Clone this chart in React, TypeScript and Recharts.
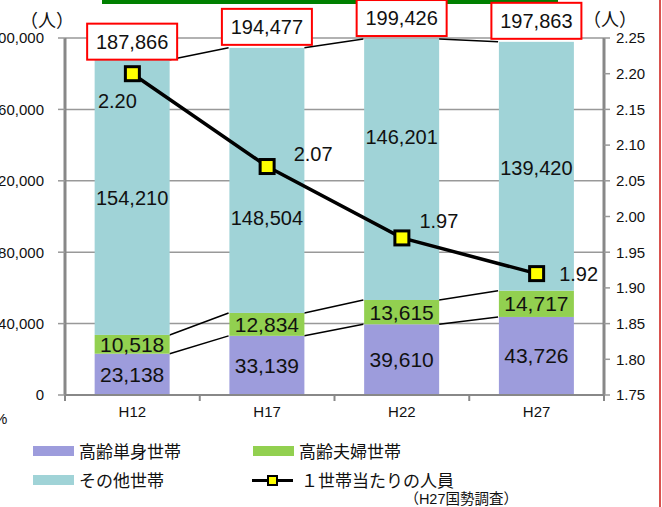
import React from 'react';
import { Bar, CartesianGrid, ComposedChart, LabelList, Line, XAxis, YAxis } from 'recharts';

const years = ['H12', 'H17', 'H22', 'H27'];
const singleElderly = [23138, 33139, 39610, 43726];
const elderlyCouple = [10518, 12834, 13615, 14717];
const otherHouseholds = [154210, 148504, 146201, 139420];
const perHousehold = [2.2, 2.07, 1.97, 1.92];
const leftTicks = [0, 40000, 80000, 120000, 160000, 200000];
const rightTicks = [1.75, 1.8, 1.85, 1.9, 1.95, 2.0, 2.05, 2.1, 2.15, 2.2, 2.25];
const seriesNames = ['高齢単身世帯', '高齢夫婦世帯', 'その他世帯', '１世帯当たりの人員'];

const stacks = [singleElderly, elderlyCouple, otherHouseholds];
const totals = years.map((_, i) => stacks.reduce((s, arr) => s + arr[i], 0));

const data = years.map((year, i) => ({
  year,
  single: singleElderly[i],
  couple: elderlyCouple[i],
  other: otherHouseholds[i],
  perHousehold: perHousehold[i],
}));

const FONT = "'Liberation Sans', Arial, 'Noto Sans CJK JP', sans-serif";
const COLORS = ['#9d9cdc', '#92d050', '#a0d3d7'];
const GAP = 0.22; // barCategoryGap

const fmt = (v: number) => v.toLocaleString('en-US');

// bar segment + the Excel-style series line to the next bar
const makeShape = (seg: number) => (props: any) => {
  const { x, y, width, height, index, fill } = props;
  const cum = (i: number) => stacks.slice(0, seg + 1).reduce((s, arr) => s + arr[i], 0);
  let link = null;
  if (index < years.length - 1 && height > 0) {
    const k = height / stacks[seg][index];
    const base = y + height + (cum(index) - stacks[seg][index]) * k;
    const band = width / (1 - 2 * GAP);
    link = (
      <line x1={x + width} y1={y} x2={x + band} y2={base - cum(index + 1) * k}
        stroke="#000" strokeWidth={1.5} />
    );
  }
  return (
    <g>
      <rect x={x} y={y} width={width} height={height} fill={fill} />
      {link}
    </g>
  );
};

const segLabel = (seg: number, shifts: number[] = [0, 0, 0, 0], size = 20) => (props: any) => {
  const { x, y, width, height, index } = props;
  return (
    <text x={x + width / 2} y={y + height / 2 + shifts[index]} textAnchor="middle" dominantBaseline="central"
      fontSize={size} fill="#111" fontFamily={FONT}>
      {fmt(stacks[seg][index])}
    </text>
  );
};

const totalBox = (props: any) => {
  const { x, y, width, index } = props;
  const cx = x + width / 2;
  const bw = 90, bh = 36;
  const bottom = index === 0 ? y : y - 3;
  return (
    <g>
      <rect x={cx - bw / 2} y={bottom - bh} width={bw} height={bh} fill="#fff" stroke="#ff0000" strokeWidth={2} />
      <text x={cx} y={bottom - bh / 2} textAnchor="middle" dominantBaseline="central" fontSize={20}
        fill="#111" fontFamily={FONT}>
        {fmt(totals[index])}
      </text>
    </g>
  );
};

const lineLabelOffsets = [[-15, 27], [46, -13], [37, -17], [42, 0]];
const lineLabel = (props: any) => {
  const { x, y, index } = props;
  const [dx, dy] = lineLabelOffsets[index];
  return (
    <text x={x + dx} y={y + dy} textAnchor="middle" dominantBaseline="central" fontSize={20}
      fill="#111" fontFamily={FONT}>
      {perHousehold[index].toFixed(2)}
    </text>
  );
};

const SquareDot = (props: any) => {
  const { cx, cy } = props;
  return <rect x={cx - 7} y={cy - 7} width={14} height={14} fill="#ffff00" stroke="#000" strokeWidth={3} />;
};

const XTick = (props: any) => {
  const { x, y, payload, index } = props;
  const half = payload?.offset ?? 0;
  const axisY = y - 11;
  return (
    <g>
      <line x1={x - half} x2={x - half} y1={axisY} y2={axisY + 6} stroke="#888" strokeWidth={2} />
      {index === years.length - 1 && (
        <line x1={x + half} x2={x + half} y1={axisY} y2={axisY + 6} stroke="#888" strokeWidth={2} />
      )}
      <text x={x} y={y} dy="0.71em" textAnchor="middle" fontSize={15} fill="#111" fontFamily={FONT}>
        {payload.value}
      </text>
    </g>
  );
};

const Swatch = ({ color }: { color: string }) => (
  <div style={{ width: 41, height: 10, background: color, marginRight: 5 }} />
);

const legendText: React.CSSProperties = { fontSize: 17, fontFamily: FONT, color: '#111', whiteSpace: 'nowrap' };

export default function App() {
  return (
    <div style={{ position: 'absolute', left: 0, top: 0, width: 662, height: 507, background: '#fff', overflow: 'hidden' }}>
      <div style={{ position: 'absolute', left: 102, top: 0, width: 456, height: 4, background: '#008000' }} />
      <div style={{ position: 'absolute', left: 659, top: 0, width: 2, height: 507, background: '#d9534f' }} />
      <ComposedChart width={662} height={507} data={data} barCategoryGap="22%"
        margin={{ top: 38, right: 0, bottom: 82, left: 0 }}>
        <CartesianGrid yAxisId="left" vertical={false} stroke="#999" strokeWidth={1.5} />
        <XAxis dataKey="year" height={30} tickSize={6} tickMargin={5} tickLine={false}
          axisLine={{ stroke: '#888', strokeWidth: 2 }} tick={<XTick />} />
        <YAxis yAxisId="left" width={65} domain={[0, 200000]} ticks={leftTicks} tickFormatter={fmt}
          tickSize={7} tickMargin={14} interval={0}
          axisLine={{ stroke: '#888', strokeWidth: 3 }} tickLine={{ stroke: '#999', strokeWidth: 1.5 }}
          tick={{ fontSize: 15, fill: '#111', fontFamily: FONT }} />
        <YAxis yAxisId="right" orientation="right" width={58} domain={[1.75, 2.25]} ticks={rightTicks}
          tickFormatter={(v: number) => v.toFixed(2)} tickSize={6} tickMargin={6} interval={0}
          axisLine={{ stroke: '#888', strokeWidth: 3 }} tickLine={{ stroke: '#999', strokeWidth: 1.5 }}
          tick={{ fontSize: 15, fill: '#111', fontFamily: FONT, textAnchor: 'start' }} />
        <Bar yAxisId="left" dataKey="single" stackId="a" fill={COLORS[0]} shape={makeShape(0)} isAnimationActive={false}>
          <LabelList content={segLabel(0, [0, 0, 0, 0], 21)} />
        </Bar>
        <Bar yAxisId="left" dataKey="couple" stackId="a" fill={COLORS[1]} shape={makeShape(1)} isAnimationActive={false}>
          <LabelList content={segLabel(1, [0, 0, 0, 0], 21)} />
        </Bar>
        <Bar yAxisId="left" dataKey="other" stackId="a" fill={COLORS[2]} shape={makeShape(2)} isAnimationActive={false}>
          <LabelList content={segLabel(2, [1, 38, -33, 2], 20)} />
          <LabelList content={totalBox} />
        </Bar>
        <Line yAxisId="right" dataKey="perHousehold" stroke="#000" strokeWidth={3.5} type="linear"
          dot={<SquareDot />} activeDot={false} isAnimationActive={false}>
          <LabelList content={lineLabel} />
        </Line>
        <text x={47} y={21} textAnchor="middle" dominantBaseline="central" fontSize={18} fill="#111"
          fontFamily={FONT}>（人）</text>
        <text x={610} y={20} textAnchor="middle" dominantBaseline="central" fontSize={18} fill="#111"
          fontFamily={FONT}>（人）</text>
        <text x={-6} y={418} dominantBaseline="central" fontSize={15} fill="#111" fontFamily={FONT}>%</text>
      </ComposedChart>

      <div style={{ position: 'absolute', left: 33, top: 438, display: 'flex', alignItems: 'center' }}>
        <Swatch color={COLORS[0]} /><span style={legendText}>{seriesNames[0]}</span>
      </div>
      <div style={{ position: 'absolute', left: 253, top: 438, display: 'flex', alignItems: 'center' }}>
        <Swatch color={COLORS[1]} /><span style={legendText}>{seriesNames[1]}</span>
      </div>
      <div style={{ position: 'absolute', left: 33, top: 467, display: 'flex', alignItems: 'center' }}>
        <Swatch color={COLORS[2]} /><span style={legendText}>{seriesNames[2]}</span>
      </div>
      <div style={{ position: 'absolute', left: 252, top: 467, display: 'flex', alignItems: 'center' }}>
        <div style={{ position: 'relative', width: 41, height: 12, marginRight: 8 }}>
          <div style={{ position: 'absolute', left: 0, top: 5, width: 41, height: 3, background: '#000' }} />
          <div style={{ position: 'absolute', left: 15, top: 1, width: 7, height: 7, background: '#ffff00', border: '2px solid #000' }} />
        </div>
        <span style={legendText}>{seriesNames[3]}</span>
      </div>
      <div style={{ position: 'absolute', right: 144, top: 487, fontSize: 14.5, fontFamily: FONT, color: '#111', whiteSpace: 'nowrap' }}>
        （H27国勢調査）
      </div>
    </div>
  );
}
